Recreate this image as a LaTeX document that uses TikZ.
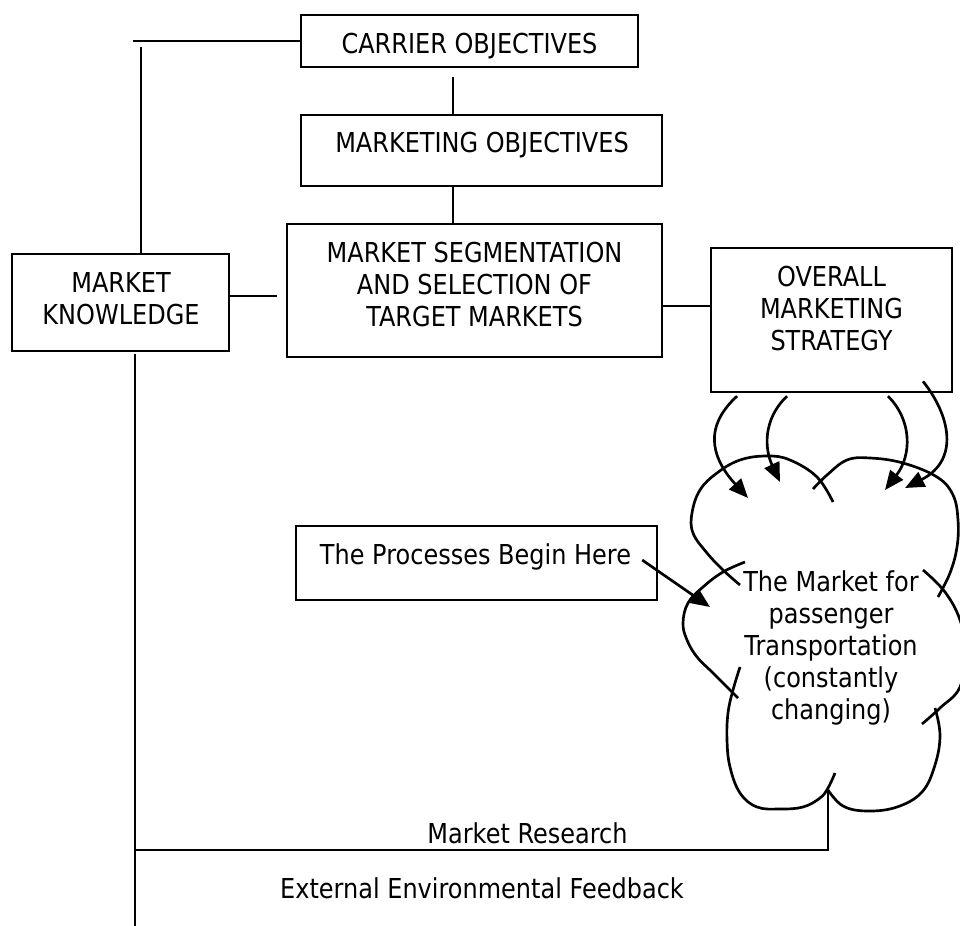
\documentclass[tikz,border=0pt]{standalone}
\usepackage{fontspec}
\setmainfont{DejaVu Sans}[FakeStretch=0.875]
\usetikzlibrary{arrows.meta}
\begin{document}
\begin{tikzpicture}[x=0.025cm,y=-0.025cm,line width=1.9pt,
    font=\fontsize{19.5}{22.8}\selectfont,
    >={Triangle[length=4.8mm,width=4mm]}]
    \tikzstyle{box}=[draw,rectangle,inner sep=0pt]
    \tikzstyle{txt}=[align=center,inner sep=0pt]
    \useasboundingbox (0,0) rectangle (960,926);
    \node[box,minimum width=8.43cm,minimum height=1.3cm] at (469.5,41) (carrier) {};
    \node[txt] at (469.5,46) (carrier-t) {CARRIER OBJECTIVES};
    \node[box,minimum width=9.03cm,minimum height=1.78cm] at (481.5,150.5) (mktobj) {};
    \node[txt] at (482,145) (mktobj-t) {MARKETING OBJECTIVES};
    \node[box,minimum width=9.38cm,minimum height=3.33cm] at (474.5,290.5) (seg) {};
    \node[txt] at (474.5,284.7) (seg-t) {MARKET SEGMENTATION\\AND SELECTION OF\\TARGET MARKETS};
    \node[box,minimum width=5.43cm,minimum height=2.43cm] at (120.5,302.5) (know) {};
    \node[txt] at (121,298.7) (know-t) {MARKET\\KNOWLEDGE};
    \node[box,minimum width=6.03cm,minimum height=3.6cm] at (831.5,320) (overall) {};
    \node[txt] at (831.5,308.4) (overall-t) {OVERALL\\MARKETING\\STRATEGY};
    \node[box,minimum width=9.03cm,minimum height=1.85cm] at (476.5,563) (proc) {};
    \node[txt] at (475.5,556.5) (proc-t) {The Processes Begin Here};
    \node[txt] at (831,648) (mkt) {The Market for\\passenger\\Transportation\\(constantly\\changing)};
    \node[txt] at (527.5,833) (res-t) {Market Research};
    \node[txt] at (482,888) (ext-t) {External Environmental Feedback};
    \coordinate (feed-l) at (133,41);
    \coordinate (feed-v) at (141,47);
    \coordinate (obj-a) at (453,77);
    \coordinate (know-r) at (277,296);
    \coordinate (strat) at (686,306);
    \coordinate (fb-top) at (135,354);
    \coordinate (fb-bot) at (135,926);
    \coordinate (cusp) at (828,790);
    \coordinate (res) at (828,850);
    \coordinate (mkt-in) at (710,607);
    \draw (carrier.west) -- (feed-l);
    \draw (feed-v) -- (feed-v |- know.north);
    \draw (obj-a) -- (obj-a |- mktobj.north);
    \draw (mktobj.south -| obj-a) -- (seg.north -| obj-a);
    \draw (know.east |- know-r) -- (know-r);
    \draw (seg.east |- strat) -- (overall.west |- strat);
    \draw (fb-top) -- (fb-bot);
    \draw (cusp) -- (res) -- (fb-top |- res);
    \draw[->] ([shift={(7pt,-2.5pt)}]proc-t.east) -- (mkt-in);
    \foreach \sx/\dy/\ax/\ay/\bx/\by/\tx/\ty in {737/-2/700/430/715/462/748/498,
        787/-2/762/420/765/450/780/482, 888/-2/912/420/912/455/885/490,
        923/8.5/950/415/960/460/905/488}
      {\draw[->] ([yshift=\dy pt]overall.south -| \sx,0) .. controls (\ax,\ay) and (\bx,\by) .. (\tx,\ty);}
    \draw plot[smooth,tension=0.65] coordinates {(833,502) (817,477) (790,460) (767,456) (740,460) (717,473)
      (700,490) (692,513) (693,533) (707,553) (723,570) (740,585)};
    \draw plot[smooth,tension=0.65] coordinates {(813,489) (827,475) (847,460) (870,458) (903,463) (937,477)
      (953,495) (958,520) (957,547) (950,573) (938,597)};
    \draw plot[smooth,tension=0.65] coordinates {(923,570) (945,592) (960,620) (965,650) (960,687) (940,708) (922,724)};
    \draw plot[smooth,tension=0.65] coordinates {(935,708) (940,735) (935,765) (922,792) (897,807)
      (867,811) (843,806) (828,790)};
    \draw plot[smooth,tension=0.65] coordinates {(740,667) (733,690) (728,713) (727,740) (730,767) (740,793)
      (757,807) (780,809) (803,807) (820,798) (828,788) (835,773)};
    \draw plot[smooth,tension=0.65] coordinates {(745,562) (723,572) (703,587) (688,603) (683,623) (687,640)
      (697,657) (713,673) (738,698)};
\end{tikzpicture}
\end{document}
